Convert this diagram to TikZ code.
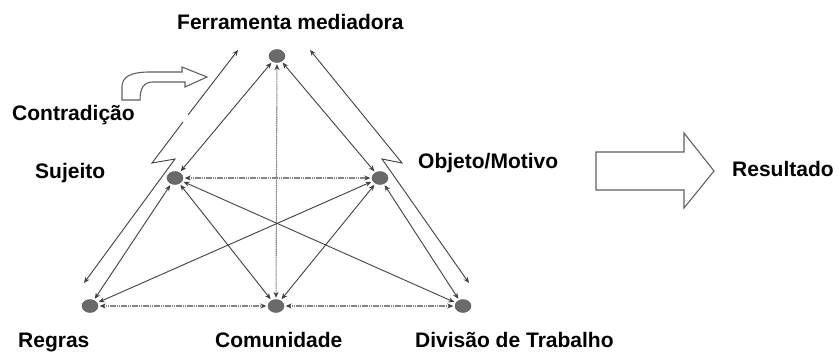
\documentclass[tikz,border=0pt]{standalone}
\usepackage{fontspec}
\setmainfont{Liberation Sans}
\usetikzlibrary{arrows.meta,shapes.geometric}
\definecolor{ln}{HTML}{404040}
\definecolor{lg}{HTML}{858585}
\definecolor{dotc}{HTML}{6A6A6A}
\begin{document}
\begin{tikzpicture}[x=1pt,y=-1pt,
  dot/.style={ellipse,fill=dotc,draw=dotc!80!black,minimum width=16pt,minimum height=13pt,inner sep=0pt},
  lab/.style={anchor=base west,inner sep=0pt,font=\fontsize{21}{25}\selectfont\bfseries},
  tip/.tip={Stealth[length=6pt,width=5pt,color=ln]},
  rel/.style={tip-tip,draw=ln,line width=0.9pt,shorten <=1.5pt,shorten >=1.5pt},
  relg/.style={rel,draw=lg,line width=1.1pt,dash pattern=on 1.6pt off 0.6pt},
  bolt/.style={draw=ln,line width=0.9pt},
  outl/.style={draw=gray!75!black,line width=1.1pt,fill=white,line join=miter}]
\useasboundingbox (0,0) rectangle (838,353);

% dots
\node[dot] (T) at (277,56) {};
\node[dot] (S) at (175,178) {};
\node[dot] (O) at (380,178) {};
\node[dot] (R) at (90,306) {};
\node[dot] (C) at (276,306) {};
\node[dot] (D) at (463,306) {};

% labels
\node[lab] (lT) at (177,30) {Ferramenta mediadora};
\node[lab] (lCo) at (12,121) {Contradição};
\node[lab] (lS) at (35,178) {Sujeito};
\node[lab] (lO) at (418,168) {Objeto/Motivo};
\node[lab] (lRes) at (732,176) {Resultado};
\node[lab] (lR) at (18,347) {Regras};
\node[lab] (lC) at (215,347) {Comunidade};
\node[lab] (lD) at (415,347) {Divisão de Trabalho};

% relations
\draw[rel] (T) -- (S);
\draw[rel] (T) -- (O);
\draw[relg] (T) -- (C);
\draw[relg] (S) -- (O);
\draw[rel] (S) -- (R);
\draw[rel] (S) -- (C);
\draw[rel] (S) -- (D);
\draw[rel] (O) -- (R);
\draw[rel] (O) -- (C);
\draw[rel] (O) -- (D);
\draw[relg] (R) -- (C);
\draw[relg] (C) -- (D);

% left lightning line
\coordinate (La) at (238,50);
\coordinate (Lb) at (188,115);
\coordinate (Lc) at (183,122);
\coordinate (Ld) at (152,163);
\coordinate (Le) at (175,159);
\coordinate (Lf) at (84,283);
\draw[bolt,-tip] (Lb) -- (La);
\draw[bolt,-tip] (Lc) -- (Ld) -- (Le) -- (Lf);

% right lightning line
\coordinate (Ra) at (310,50);
\coordinate (Rb) at (402,163);
\coordinate (Rc) at (382,159);
\coordinate (Rd) at (469,283);
\draw[bolt,tip-tip] (Ra) -- (Rb) -- (Rc) -- (Rd);

% curved arrow (Contradição)
\draw[outl] (122,100) -- (122,87) .. controls (122,77) and (130,72) .. (150,72)
  -- (182,72) -- (182,67) -- (207,77) -- (185,87) -- (185,82) -- (153,82)
  .. controls (144,82) and (140,88) .. (140,100) -- cycle;

% big arrow (Resultado)
\draw[outl] (596,152) -- (684,152) -- (684,133) -- (714,171) -- (684,208)
  -- (684,190) -- (596,190) -- cycle;
\end{tikzpicture}
\end{document}
